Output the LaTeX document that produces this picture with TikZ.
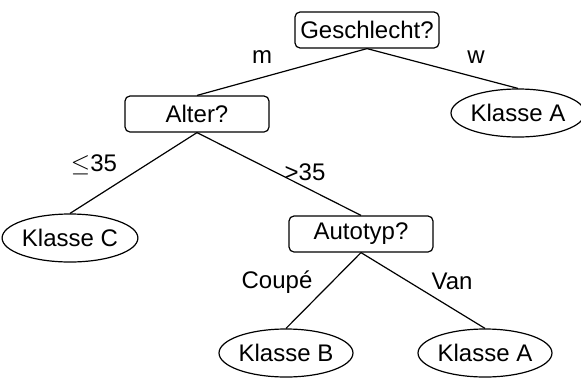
\documentclass[tikz,border=0pt]{standalone}
\usepackage{fontspec}
\setmainfont{Liberation Sans}
\usetikzlibrary{shapes.geometric}
\begin{document}
\begin{tikzpicture}[x=1pt,y=-1pt,
  every node/.style={font=\fontsize{24}{28}\selectfont},
  qbox/.style={draw,line width=1.2pt,rounded corners=5pt,minimum width=144pt,minimum height=36pt,inner sep=0pt},
  leaf/.style={draw,line width=1.2pt,ellipse,minimum width=125pt,minimum height=48pt,inner sep=0pt},
  edge/.style={line width=1.2pt},
  lbl/.style={inner sep=0pt}]
\useasboundingbox (0,0) rectangle (581,381);
\node[qbox] (g) at (367,30) {Geschlecht?};
\node[qbox] (alt) at (197,114) {Alter?};
\node[leaf] (ka1) at (518,113) {Klasse A};
\node[leaf] (kc) at (70,238) {Klasse C};
\node[qbox] (auto) at (361,234) {Autotyp?};
\node[leaf] (kb) at (286,353) {Klasse B};
\node[leaf] (ka2) at (485,353) {Klasse A};
\draw[edge] (g.south) -- (alt.north);
\draw[edge] (g.south) -- (ka1.north);
\draw[edge] (alt.south) -- (kc.north);
\draw[edge] (alt.south) -- (auto.north);
\draw[edge] (auto.south) -- (kb.north);
\draw[edge] (auto.south) -- (ka2.north);
\node[lbl] (lm) at (262,57) {m};
\node[lbl] (lw) at (476,57) {w};
\node[lbl] (lle) at (94,165) {$\leq$35};
\node[lbl] (lgt) at (305,172) {>35};
\node[lbl] (lc) at (277,282) {Coupé};
\node[lbl] (lv) at (452,281) {Van};
\end{tikzpicture}
\end{document}
